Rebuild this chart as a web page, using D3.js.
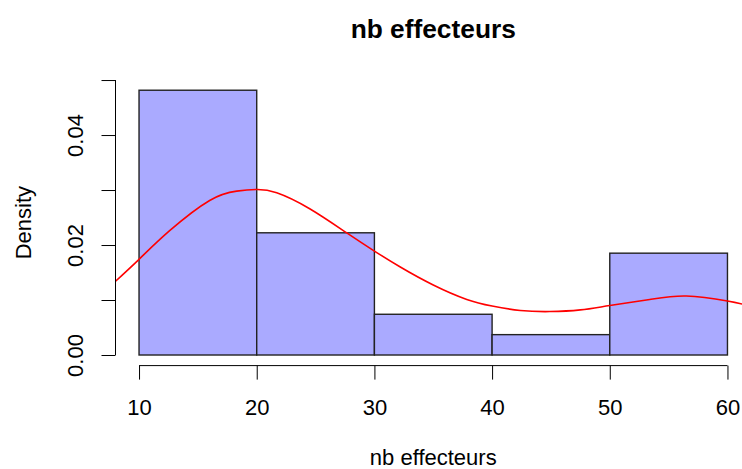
<!DOCTYPE html>
<html>
<head>
<meta charset="utf-8">
<script src="https://cdn.jsdelivr.net/npm/d3@7"></script>
<style>
  html, body { margin: 0; padding: 0; background: #fff; }
  svg { display: block; font-family: Arial, "Liberation Sans", sans-serif; }
</style>
</head>
<body>
<svg id="chart" width="742" height="469"></svg>
<script>
// Histogram bins (break edges) and densities
const binStarts = [10, 20, 30, 40, 50];
const binEnds   = [20, 30, 40, 50, 60];
const densities = [13/270, 6/270, 2/270, 1/270, 5/270];

// Kernel density curve
const curveX = [7.96, 10, 12.6, 16.0, 18.3, 20, 21.7, 24.5, 27.65, 30, 32.2, 35.0, 37.85, 40, 42.4, 44.9, 47.5, 50, 53.4, 56.5, 60, 62];
const curveY = [0.01333, 0.0174, 0.0226, 0.0281, 0.0298, 0.0301, 0.0295, 0.0266, 0.0222, 0.0189, 0.0160, 0.01273, 0.0101, 0.0089, 0.0081, 0.0079, 0.0082, 0.0090, 0.0101, 0.01073, 0.00982, 0.0089];

const xTicks = [10, 20, 30, 40, 50, 60];
const yTicks = [0, 0.01, 0.02, 0.03, 0.04, 0.05];
const yTickLabels = ["0.00", "", "0.02", "", "0.04", ""];

const title = "nb effecteurs";
const xLabel = "nb effecteurs";
const yLabel = "Density";

const svg = d3.select("#chart");
const plotLeft = 115.5, plotRight = 751, plotTop = 79.6, plotBottom = 365.6;

const x = d3.scaleLinear().domain([8, 62]).range([plotLeft, plotRight]);
const y = d3.scaleLinear().domain([-0.001926, 0.05008]).range([plotBottom, plotTop]);

const fs = 22;

// Bars
svg.append("g").selectAll("rect")
  .data(binStarts.map((s, i) => ({s, e: binEnds[i], d: densities[i]})))
  .join("rect")
  .attr("x", d => x(d.s))
  .attr("y", d => y(d.d))
  .attr("width", d => x(d.e) - x(d.s))
  .attr("height", d => y(0) - y(d.d))
  .attr("fill", "#AAAAFF")
  .attr("stroke", "#222")
  .attr("stroke-width", 1.4);

// Density curve (clipped to plot region)
svg.append("clipPath").attr("id", "clip")
  .append("rect").attr("x", plotLeft).attr("y", plotTop)
  .attr("width", plotRight - plotLeft).attr("height", plotBottom - plotTop);

const line = d3.line()
  .x((d, i) => x(curveX[i]))
  .y(d => y(d))
  .curve(d3.curveNatural);

svg.append("path")
  .attr("clip-path", "url(#clip)")
  .attr("d", line(curveY))
  .attr("fill", "none")
  .attr("stroke", "red")
  .attr("stroke-width", 1.6);

// X axis
const xAxis = svg.append("g")
  .attr("transform", `translate(0,${plotBottom})`)
  .call(d3.axisBottom(x).tickValues(xTicks).tickSize(14).tickSizeOuter(0).tickFormat(d3.format("d")));
xAxis.select(".domain").remove();
xAxis.append("line")
  .attr("x1", x(xTicks[0])).attr("x2", x(xTicks[xTicks.length - 1]))
  .attr("y1", 0).attr("y2", 0).attr("stroke", "#000");
xAxis.selectAll(".tick line").attr("stroke", "#000");
xAxis.selectAll(".tick text")
  .attr("y", 49).attr("dy", 0)
  .attr("font-size", fs).attr("fill", "#000")
  .attr("font-family", "Arial, 'Liberation Sans', sans-serif");

// Y axis
const yAxis = svg.append("g")
  .attr("transform", `translate(${plotLeft},0)`)
  .call(d3.axisLeft(y).tickValues(yTicks).tickSize(14).tickSizeOuter(0)
    .tickFormat((d, i) => yTickLabels[i]));
yAxis.select(".domain").remove();
yAxis.append("line")
  .attr("x1", 0).attr("x2", 0)
  .attr("y1", y(yTicks[0])).attr("y2", y(yTicks[yTicks.length - 1]))
  .attr("stroke", "#000");
yAxis.selectAll(".tick line").attr("stroke", "#000");
yAxis.selectAll(".tick text")
  .attr("x", null).attr("dy", null)
  .attr("transform", "translate(-32.5,0) rotate(-90)")
  .attr("text-anchor", "middle")
  .attr("font-size", fs).attr("fill", "#000")
  .attr("font-family", "Arial, 'Liberation Sans', sans-serif");

// Title and labels
const cx = (plotLeft + plotRight) / 2;
svg.append("text")
  .attr("x", cx).attr("y", 38)
  .attr("text-anchor", "middle")
  .attr("font-size", 26.3).attr("font-weight", "bold")
  .text(title);

svg.append("text")
  .attr("x", cx).attr("y", 465)
  .attr("text-anchor", "middle")
  .attr("font-size", fs)
  .text(xLabel);

svg.append("text")
  .attr("transform", `translate(31,${(plotTop + plotBottom) / 2}) rotate(-90)`)
  .attr("text-anchor", "middle")
  .attr("font-size", fs)
  .text(yLabel);
</script>
</body>
</html>
